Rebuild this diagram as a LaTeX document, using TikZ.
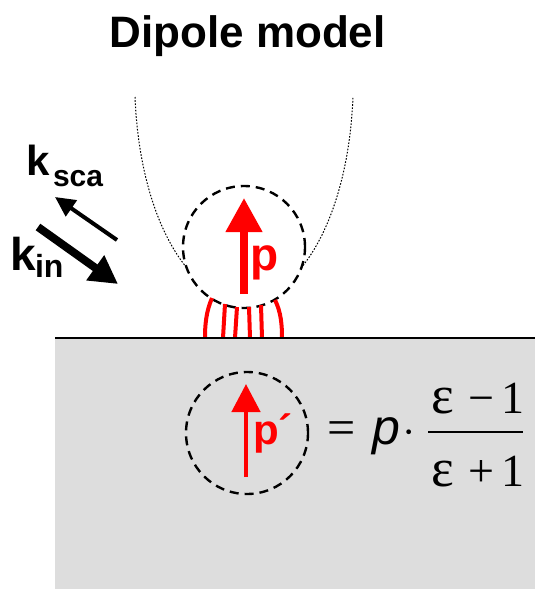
\documentclass[tikz,border=0pt]{standalone}
\usepackage{fontspec}
\setmainfont{Liberation Sans}
\newfontfamily\serifglyphs{Liberation Serif}
\usetikzlibrary{arrows.meta}
\definecolor{substrate}{RGB}{221,221,221}
\definecolor{fieldred}{RGB}{255,0,0}
\newcommand{\fs}[1]{\fontsize{#1}{#1}\selectfont}
\tikzset{
  glyph/.style={inner sep=0pt, outer sep=0pt},
  sphere/.style={circle, draw=black, line width=2.4pt, dash pattern=on 9pt off 6pt,
                 minimum size=122pt, inner sep=0pt},
  fieldline/.style={draw=fieldred, line width=4pt},
  eqserif/.style={glyph, font=\serifglyphs\fs{46}},
  eqeps/.style={glyph, font=\serifglyphs\fs{54}},
}
\begin{document}
\begin{tikzpicture}[x=1pt, y=-1pt]
\useasboundingbox (0,0) rectangle (535,589);

% substrate
\fill[substrate] (55,338) rectangle (535,589);

% tip outline (dotted)
\draw[line width=1pt, dash pattern=on 1.6pt off 1.6pt]
  (135,97) .. controls (140,220) and (190,300) .. (244,300)
           .. controls (298,300) and (348,220) .. (353,97);

% dipole above the surface
\node[sphere, fill=white] (dip) at (244,247) {};

% near-field lines between dipole and surface
\coordinate (f1a) at (212,298); \coordinate (f1b) at (205,338);
\coordinate (f2a) at (225,304); \coordinate (f2b) at (223,338);
\coordinate (f3a) at (237,307); \coordinate (f3b) at (235,338);
\coordinate (f4a) at (249,307); \coordinate (f4b) at (250,338);
\coordinate (f5a) at (261,305); \coordinate (f5b) at (262,338);
\coordinate (f6a) at (275,300); \coordinate (f6b) at (282,338);
\draw[fieldline] (f1a) .. controls (206,312) and (205,325) .. (f1b);
\draw[fieldline] (f2a) -- (f2b);
\draw[fieldline] (f3a) -- (f3b);
\draw[fieldline] (f4a) -- (f4b);
\draw[fieldline] (f5a) -- (f5b);
\draw[fieldline] (f6a) .. controls (281,312) and (282,325) .. (f6b);

% surface line
\coordinate (sL) at (55,338); \coordinate (sR) at (535,338);
\draw[line width=1.8pt] (sL) -- (sR);

% dipole moment p
\coordinate (pTail) at (244,294); \coordinate (pTip) at (244,198);
\draw[fieldred, line width=7.5pt, -{Triangle[length=34pt, width=35pt]}] (pTail) -- (pTip);
\node[glyph, anchor=base west, text=fieldred, font=\bfseries\fs{46}] (plabel) at (250,270) {p};

% image dipole
\node[sphere] (img) at (247,433) {};
\coordinate (qTail) at (246,477); \coordinate (qTip) at (246,384);
\draw[fieldred, line width=4.7pt, -{Triangle[length=28pt, width=28pt]}] (qTail) -- (qTip);
\node[glyph, anchor=base west, text=fieldred, font=\bfseries\fs{42}] (qlabel) at (253,444) {p´};

% image dipole strength
\node[glyph, anchor=base, font=\serifglyphs\fs{50}] (eq) at (341.5,444) {=};
\node[glyph, anchor=base, font=\itshape\fs{50}] (pp) at (386,444) {p};
\node[glyph, font=\serifglyphs\fs{40}] (dot) at (409,438) {·};
\coordinate (barL) at (428,432); \coordinate (barR) at (523,432);
\draw[line width=1.8pt] (barL) -- (barR);
\node[eqeps, anchor=base] (n1) at (443,413) {ε};
\node[eqserif, anchor=base] (n2) at (481,413) {−};
\node[eqserif, anchor=base] (n3) at (513,413) {1};
\node[eqeps, anchor=base] (d1) at (443,486) {ε};
\node[eqserif, anchor=base] (d2) at (481,486) {+};
\node[eqserif, anchor=base] (d3) at (513,486) {1};

% wave vectors
\coordinate (ksTail) at (117,240); \coordinate (ksTip) at (55,197);
\draw[line width=4pt, -{Triangle[length=20pt, width=19pt]}] (ksTail) -- (ksTip);
\coordinate (kiTail) at (38,227); \coordinate (kiTip) at (118,284);
\draw[line width=8pt, -{Triangle[length=28pt, width=29pt]}] (kiTail) -- (kiTip);
\node[glyph, anchor=base west, font=\bfseries\fs{42}] (ks) at (26,175) {k};
\node[glyph, anchor=base west, font=\bfseries\fs{30}] (kss) at (53,186) {sca};
\node[glyph, anchor=base west, font=\bfseries\fs{46}] (ki) at (10,270) {k};
\node[glyph, anchor=base west, font=\bfseries\fs{32}] (kis) at (35,277) {in};

% title
\node[glyph, anchor=base, font=\bfseries\fs{44}] (title) at (247.5,47) {Dipole model};
\end{tikzpicture}
\end{document}
